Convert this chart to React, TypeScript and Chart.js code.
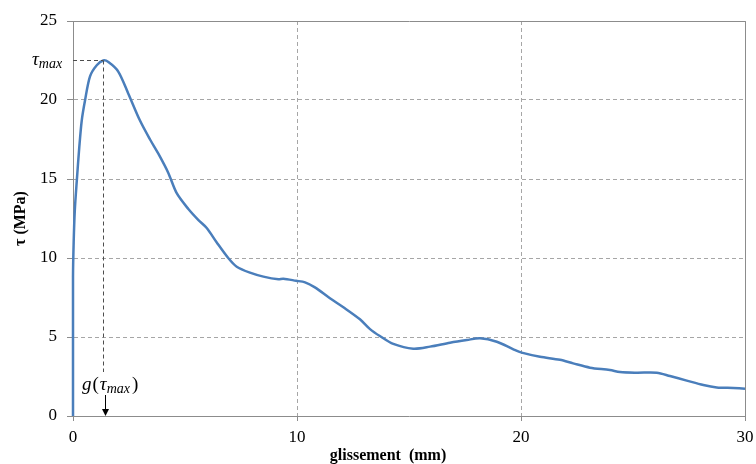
import React, { useEffect, useRef } from 'react';
import { Chart, registerables } from 'chart.js';

Chart.register(...registerables);

// slip (mm) and bond stress tau (MPa)
const slip = [
  0, 0, 0.03, 0.08, 0.17, 0.28, 0.39, 0.54, 0.76, 1.06, 1.35, 1.58, 2.02, 2.47, 2.99,
  3.44, 3.81, 4.25, 4.63, 5.15, 5.6, 5.97, 6.41, 6.93, 7.31, 7.9, 8.5, 9.17, 9.39, 9.96,
  10.36, 10.8, 11.47, 12.07, 12.81, 13.26, 13.7, 14.3, 15.19, 15.94, 16.83, 17.58, 18.17,
  18.92, 19.66, 20.03, 20.85, 21.74, 22.33, 23.08, 23.97, 24.42, 25.16, 26.06, 26.65,
  27.4, 28.14, 28.74, 29.48, 30,
];
const tau = [
  0, 8.8, 11.0, 13.0, 14.9, 17.0, 18.7, 20.0, 21.5, 22.2, 22.5, 22.4, 21.8, 20.4, 18.7,
  17.5, 16.6, 15.4, 14.1, 13.1, 12.4, 11.9, 11.0, 10.0, 9.45, 9.07, 8.82, 8.65, 8.69, 8.56,
  8.46, 8.14, 7.45, 6.88, 6.12, 5.5, 5.06, 4.56, 4.26, 4.39, 4.64, 4.81, 4.92,
  4.7, 4.22, 4.01, 3.75, 3.56, 3.33, 3.06, 2.91, 2.78, 2.74, 2.74, 2.53,
  2.24, 1.96, 1.81, 1.77, 1.73,
];
const xTicks = [0, 10, 20, 30];
const yTicks = [0, 5, 10, 15, 20, 25];
const TAU_MAX = 22.5;
const SLIP_AT_TAU_MAX = 1.34;
const X_TITLE = 'glissement  (mm)';
const Y_TITLE = 'τ (MPa)';

const SERIF = "'Liberation Serif', 'Times New Roman', serif";
const AXIS_GREY = '#8c8c8c';
const GRID_GREY = '#a6a6a6';
const LINE_BLUE = '#4a7ebb';

function drawTauMax(ctx: CanvasRenderingContext2D, x: number, y: number) {
  ctx.font = `italic 19px ${SERIF}`;
  ctx.fillText('τ', x, y);
  const w = ctx.measureText('τ').width;
  ctx.font = `italic 14px ${SERIF}`;
  ctx.fillText('max', x + w, y + 3);
  return w + ctx.measureText('max').width;
}

export default function App() {
  const ref = useRef<HTMLCanvasElement>(null);

  useEffect(() => {
    const canvas = ref.current;
    if (!canvas) return;

    const align = (v: number) => Math.floor(v) + 0.5;

    const framePlugin = {
      id: 'frame',
      beforeDatasetsDraw(chart: any) {
        const { ctx, chartArea: a } = chart;
        ctx.save();
        ctx.strokeStyle = AXIS_GREY;
        ctx.lineWidth = 1;
        ctx.beginPath();
        ctx.moveTo(align(a.left), align(a.top));
        ctx.lineTo(align(a.right), align(a.top));
        ctx.lineTo(align(a.right), align(a.bottom));
        ctx.stroke();
        ctx.restore();
      },
    };

    const annotationPlugin = {
      id: 'tauMaxAnnotation',
      afterDatasetsDraw(chart: any) {
        const { ctx, chartArea: a, scales } = chart;
        const px = scales.x.getPixelForValue(SLIP_AT_TAU_MAX);
        const py = scales.y.getPixelForValue(TAU_MAX);
        ctx.save();
        ctx.strokeStyle = '#4d4d4d';
        ctx.lineWidth = 1;
        ctx.setLineDash([4, 3]);
        ctx.beginPath();
        ctx.moveTo(a.left, align(py));
        ctx.lineTo(px, align(py));
        ctx.moveTo(align(px), py);
        ctx.lineTo(align(px), a.bottom - 44);
        ctx.stroke();
        ctx.setLineDash([]);
        // arrow
        const ax = align(px + 2);
        ctx.strokeStyle = '#000';
        ctx.beginPath();
        ctx.moveTo(ax, a.bottom - 21);
        ctx.lineTo(ax, a.bottom - 5);
        ctx.stroke();
        ctx.fillStyle = '#000';
        ctx.beginPath();
        ctx.moveTo(ax - 3.5, a.bottom - 7);
        ctx.lineTo(ax + 3.5, a.bottom - 7);
        ctx.lineTo(ax, a.bottom);
        ctx.closePath();
        ctx.fill();

        // labels
        ctx.fillStyle = '#000';
        ctx.textBaseline = 'alphabetic';
        ctx.textAlign = 'left';
        drawTauMax(ctx, 32, py + 4);

        let x = px - 21;
        const by = a.bottom - 26;
        ctx.font = `italic 19px ${SERIF}`;
        ctx.fillText('g', x, by);
        x += ctx.measureText('g').width + 1;
        ctx.font = `19px ${SERIF}`;
        ctx.fillText('(', x, by);
        x += ctx.measureText('(').width + 1;
        x += drawTauMax(ctx, x, by) + 2;
        ctx.font = `19px ${SERIF}`;
        ctx.fillText(')', x, by);

        // x-axis title
        ctx.font = `bold 16px ${SERIF}`;
        ctx.textAlign = 'center';
        ctx.textBaseline = 'middle';
        ctx.fillText(X_TITLE, a.left + 315, a.bottom + 40);
        ctx.restore();
      },
    };

    const chart = new Chart(canvas, {
      type: 'line',
      data: {
        datasets: [
          {
            data: slip.map((x, i) => ({ x, y: tau[i] })),
            borderColor: LINE_BLUE,
            backgroundColor: LINE_BLUE,
            borderWidth: 2.5,
            pointRadius: 0,
            tension: 0.3,
            fill: false,
            clip: false as any,
          },
        ],
      },
      options: {
        animation: false,
        responsive: false,
        maintainAspectRatio: false,
        layout: { padding: { top: 21, right: 11, left: 0, bottom: 0 } },
        plugins: {
          legend: { display: false },
          tooltip: { enabled: false },
          title: { display: false },
        },
        scales: {
          x: {
            type: 'linear',
            min: 0,
            max: 30,
            afterBuildTicks: (s: any) => {
              s.ticks = xTicks.map((value) => ({ value }));
            },
            afterFit: (s: any) => {
              s.height = 48;
              s.paddingRight = 0;
              s.paddingLeft = 0;
            },
            ticks: {
              color: '#000',
              font: { family: SERIF, size: 17 },
              padding: 6,
              maxRotation: 0,
            },
            grid: {
              color: GRID_GREY,
              tickColor: AXIS_GREY,
              tickLength: 5,
              lineWidth: 1,
            },
            border: { color: AXIS_GREY, dash: [4, 3], width: 1 },
          },
          y: {
            type: 'linear',
            min: 0,
            max: 25,
            afterBuildTicks: (s: any) => {
              s.ticks = yTicks.map((value) => ({ value }));
            },
            afterFit: (s: any) => {
              s.width = 73;
            },
            ticks: {
              color: '#000',
              font: { family: SERIF, size: 17 },
              padding: 10,
            },
            grid: {
              color: GRID_GREY,
              tickColor: AXIS_GREY,
              tickLength: 6,
              lineWidth: 1,
            },
            border: { color: AXIS_GREY, dash: [4, 3], width: 1 },
            title: {
              display: true,
              text: Y_TITLE,
              color: '#000',
              font: { family: SERIF, size: 16, weight: 'bold' },
              padding: { top: 11, bottom: 0 },
            },
          },
        },
      },
      plugins: [framePlugin, annotationPlugin],
    } as any);

    return () => chart.destroy();
  }, []);

  return (
    <div style={{ position: 'fixed', left: 0, top: 0, width: 756, height: 464, background: '#fff' }}>
      <canvas ref={ref} width={756} height={464} style={{ display: 'block', width: 756, height: 464 }} />
    </div>
  );
}
